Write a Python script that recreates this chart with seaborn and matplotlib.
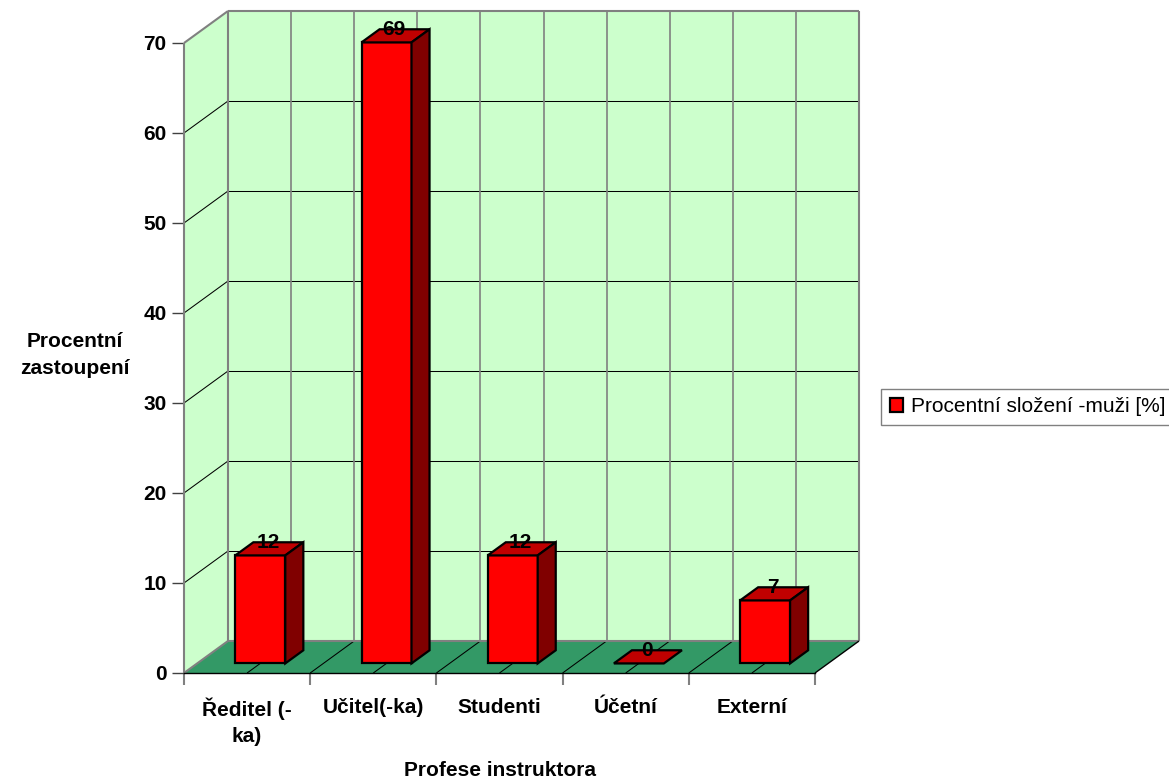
import matplotlib
matplotlib.use("Agg")
import matplotlib.pyplot as plt
import pandas as pd
import seaborn as sns
from matplotlib.patches import Polygon

categories = ["Ředitel (-\nka)", "Učitel(-ka)", "Studenti", "Účetní", "Externí"]
values = [12, 69, 12, 0, 7]
series_name = "Procentní složení -muži [%]"
y_ticks = [0, 10, 20, 30, 40, 50, 60, 70]
x_label = "Profese instruktora"
y_label = "Procentní\nzastoupení"

WALL, FLOOR, RED, TOP, SIDE, GRAY = "#CCFFCC", "#339966", "#FF0000", "#C00000", "#800000", "#808080"

sns.set_theme(style="white")
plt.rcParams["font.family"] = ["Liberation Sans", "DejaVu Sans"]
plt.rcParams["text.color"] = "black"
plt.rcParams["axes.labelcolor"] = "black"

W, H = 1169, 780
FS = 15
fig = plt.figure(figsize=(W / 100, H / 100), dpi=100, facecolor="white")
ax = fig.add_axes([184 / W, (H - 673) / H, 631 / W, 630 / H])
ax.patch.set_alpha(0)

df = pd.DataFrame({"profese": categories, "pct": values, "serie": series_name})
sns.barplot(data=df, x="profese", y="pct", hue="serie", palette=[RED], dodge=False, saturation=1,
            width=50 / 126.2, edgecolor="black", linewidth=1.6, ax=ax, zorder=5)

ax.set_xlim(-0.5, 4.5)
ax.set_ylim(0, 70)

# oblique projection, in data units per unit of depth
DX, DY = 44 / 126.2, 32 / 9


def proj(x, y, d):
    return (x + d * DX, y + d * DY)


def poly(points, fc, ec="none", lw=0, z=1):
    ax.add_patch(Polygon(points, closed=True, facecolor=fc, edgecolor=ec, linewidth=lw,
                         zorder=z, clip_on=False, joinstyle="miter"))


def line(p, q, color, lw, z=2):
    ax.plot([p[0], q[0]], [p[1], q[1]], color=color, lw=lw, zorder=z, clip_on=False,
            solid_capstyle="butt")


x0, x1, ymax = -0.5, 4.5, 70
poly([proj(x0, 0, 1), proj(x1, 0, 1), proj(x1, ymax, 1), proj(x0, ymax, 1)], WALL)
poly([proj(x0, 0, 0), proj(x0, 0, 1), proj(x0, ymax, 1), proj(x0, ymax, 0)], WALL)
poly([proj(x0, 0, 0), proj(x1, 0, 0), proj(x1, 0, 1), proj(x0, 0, 1)], FLOOR)

# wall gridlines
for t in y_ticks[1:-1]:
    line(proj(x0, t, 1), proj(x1, t, 1), "black", 0.75)
    line(proj(x0, t, 0), proj(x0, t, 1), "black", 0.75)
# vertical wall lines and floor lines, every half category
for k in range(1, 10):
    xk = x0 + k / 2
    line(proj(xk, 0, 1), proj(xk, ymax, 1), GRAY, 1.2)
    line(proj(xk, 0, 0), proj(xk, 0, 1), "black", 0.75)
# outline of walls and floor
line(proj(x0, ymax, 1), proj(x1, ymax, 1), GRAY, 1.5, 3)
line(proj(x1, ymax, 1), proj(x1, 0, 1), GRAY, 1.5, 3)
line(proj(x0, 0, 1), proj(x1, 0, 1), GRAY, 1.5, 3)
line(proj(x0, 0, 1), proj(x0, ymax, 1), GRAY, 1.5, 3)
line(proj(x0, ymax, 0), proj(x0, ymax, 1), GRAY, 1.5, 3)
line(proj(x0, 0, 0), proj(x0, 0, 1), GRAY, 1.5, 3)
line(proj(x0, 0, 0), proj(x0, ymax, 0), GRAY, 1.5, 3)
line(proj(x1, 0, 0), proj(x1, 0, 1), "black", 1.0, 3)

# 3D bars: the seaborn bars are moved into the depth, top and side are added
D0, BD = 0.30, 0.41
fx, fy = D0 * DX, D0 * DY


def front(x, y, d):
    return proj(x + fx, y + fy, d)


for bar, val in zip(ax.containers[0], values):
    xa, w = bar.get_x(), bar.get_width()
    xb = xa + w
    bar.set_xy((xa + fx, fy))
    bar.set_clip_on(False)
    bar.set_joinstyle("miter")
    poly([front(xa, val, 0), front(xb, val, 0), front(xb, val, BD), front(xa, val, BD)],
         TOP, "black", 1.6, 6)
    if val > 0:
        poly([front(xb, 0, 0), front(xb, 0, BD), front(xb, val, BD), front(xb, val, 0)],
             SIDE, "black", 1.6, 6)
    ax.annotate(str(val), xy=front(xa + w / 2, val, 0), xytext=(5.5, 9.5),
                textcoords="offset points", ha="center", va="center",
                fontsize=FS, fontweight="bold", color="black", zorder=8, annotation_clip=False)

# axes
for s in ("top", "right", "left"):
    ax.spines[s].set_visible(False)
ax.spines["bottom"].set_color("black")
ax.spines["bottom"].set_linewidth(1.0)
ax.spines["bottom"].set_zorder(4)
ax.set_yticks(y_ticks)
ax.set_xticks([0, 1, 2, 3, 4])
ax.set_xticklabels(categories, linespacing=1.45, fontsize=FS, fontweight="bold", color="black")
ax.set_xticks([-0.5, 0.5, 1.5, 2.5, 3.5, 4.5], minor=True)
ax.tick_params(axis="x", which="major", length=0, pad=18)
ax.tick_params(axis="x", which="minor", length=8.5, width=1.5, color=GRAY, bottom=True)
ax.tick_params(axis="y", length=9, width=1.0, color="#404040", left=True, pad=3.5,
               labelsize=FS, labelcolor="black")
for t in ax.get_yticklabels():
    t.set_fontweight("bold")
ax.set_xlabel(x_label, fontsize=FS, fontweight="bold", color="black")
ax.xaxis.set_label_coords((500 - 184) / 631, -(771 - 673) / 630, transform=ax.transAxes)
ax.xaxis.label.set_va("center")
ax.set_ylabel(y_label, fontsize=FS, fontweight="bold", color="black", rotation=0,
              linespacing=1.5, ha="center", va="center")
ax.yaxis.set_label_coords((75 - 184) / 631, (673 - 355) / 630, transform=ax.transAxes)

handles, labels = ax.get_legend_handles_labels()
leg = ax.legend(handles, labels, loc="center left", bbox_to_anchor=(881 / W, (H - 407) / H),
                bbox_transform=fig.transFigure, frameon=True, fancybox=False, framealpha=1,
                edgecolor=GRAY, facecolor="white", fontsize=FS, handlelength=0.65, handleheight=0.65,
                handletextpad=0.35, borderpad=0.42, borderaxespad=0, labelcolor="black")
leg.set_zorder(10)

fig.savefig("out.png", dpi=100, facecolor="white")
